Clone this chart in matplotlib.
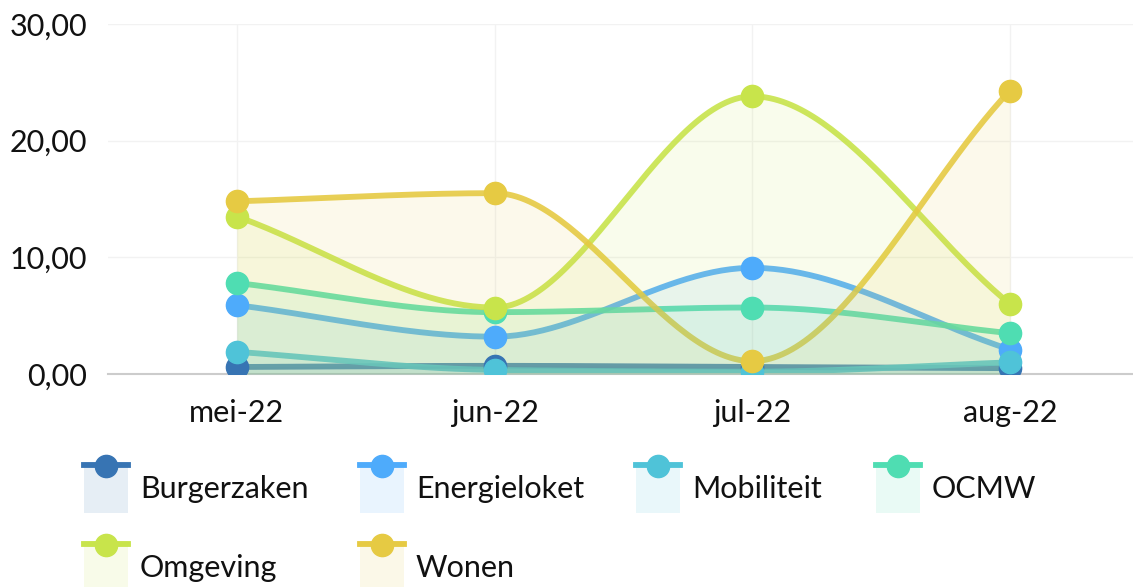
import numpy as np
import matplotlib
matplotlib.use("Agg")
import matplotlib.pyplot as plt
from matplotlib.patches import Rectangle
from matplotlib.lines import Line2D

plt.rcParams['font.family'] = ['Lato', 'DejaVu Sans']

# Data
months = ["mei-22", "jun-22", "jul-22", "aug-22"]
series_names = ["Burgerzaken", "Energieloket", "Mobiliteit", "OCMW", "Omgeving", "Wonen"]
burgerzaken = [0.6, 0.7, 0.6, 0.5]
energieloket = [5.9, 3.2, 9.1, 2.1]
mobiliteit = [1.9, 0.35, 0.2, 1.0]
ocmw = [7.8, 5.3, 5.7, 3.5]
omgeving = [13.5, 5.7, 23.8, 6.0]
wonen = [14.8, 15.5, 1.1, 24.3]
colors = ["#3774b3", "#4eabfb", "#4fc3d8", "#4fddb2", "#c8e44b", "#e6ca43"]
all_values = [burgerzaken, energieloket, mobiliteit, ocmw, omgeving, wonen]


def monotone(x, y, n=60):
    # monotone cubic (Fritsch-Carlson) for the smoothed line look
    x = np.asarray(x, float); y = np.asarray(y, float)
    h = np.diff(x); d = np.diff(y) / h
    m = np.zeros_like(y)
    m[0] = d[0]; m[-1] = d[-1]
    for i in range(1, len(y) - 1):
        if d[i - 1] * d[i] <= 0:
            m[i] = 0
        else:
            w1 = 2 * h[i] + h[i - 1]; w2 = h[i] + 2 * h[i - 1]
            m[i] = (w1 + w2) / (w1 / d[i - 1] + w2 / d[i])
    xs, ys = [], []
    for i in range(len(x) - 1):
        t = np.linspace(0, 1, n)
        h00 = 2*t**3 - 3*t**2 + 1; h10 = t**3 - 2*t**2 + t
        h01 = -2*t**3 + 3*t**2; h11 = t**3 - t**2
        xs.append(x[i] + t * h[i])
        ys.append(h00*y[i] + h10*h[i]*m[i] + h01*y[i+1] + h11*h[i]*m[i+1])
    return np.concatenate(xs), np.concatenate(ys)


W, H = 1133, 587
fig = plt.figure(figsize=(W / 100, H / 100), dpi=100)
ax = fig.add_axes([108 / W, (H - 374) / H, 1 - 108 / W, 350 / H])

xpos = np.arange(len(months))
for name, vals, c in zip(series_names, all_values, colors):
    sx, sy = monotone(xpos, vals)
    ax.plot(sx, sy, color=c, lw=4.2, zorder=2, alpha=0.9, solid_capstyle='round')
    ax.fill_between(sx, 0, sy, color=c, alpha=0.1, lw=0, zorder=3)
    ax.plot(xpos, vals, 'o', color=c, ms=16, zorder=4)

ax.set_xlim(-0.5, 3.477)
ax.set_ylim(0, 30)
ax.set_yticks([0, 10, 20, 30])
ax.set_yticklabels(["0,00", "10,00", "20,00", "30,00"])
ax.set_xticks(xpos)
ax.set_xticklabels(months)
ax.tick_params(length=0, labelsize=22, colors="#111111")
ax.tick_params(axis='x', pad=18)
ax.tick_params(axis='y', pad=15)
ax.grid(True, color="#f2f2f2", lw=1, zorder=0)
for s in ["top", "right", "left"]:
    ax.spines[s].set_visible(False)
ax.spines["bottom"].set_color("#cccccc")
ax.spines["bottom"].set_linewidth(1.5)
ax.set_axisbelow(True)

# Legend, drawn by hand in pixel positions
col_x = [84, 360, 636, 876, 84, 360]
row_y = [462, 462, 462, 462, 541, 541]
for name, c, bx, by in zip(series_names, colors, col_x, row_y):
    fig.add_artist(Rectangle((bx / W, 1 - (by + 51) / H), 44 / W, 51 / H,
                             transform=fig.transFigure, color=c, alpha=0.12, lw=0))
    fig.add_artist(Line2D([bx / W, (bx + 44) / W], [1 - (by + 3) / H] * 2,
                          transform=fig.transFigure, color=c, lw=4.2))
    fig.add_artist(Line2D([(bx + 22) / W], [1 - (by + 4) / H], marker='o', ms=16,
                          transform=fig.transFigure, color=c))
    fig.text((bx + 56) / W, 1 - (by + 27) / H, name, fontsize=22, color="#111111",
             va='center', ha='left')

fig.savefig("out.png", dpi=100, facecolor="white")
